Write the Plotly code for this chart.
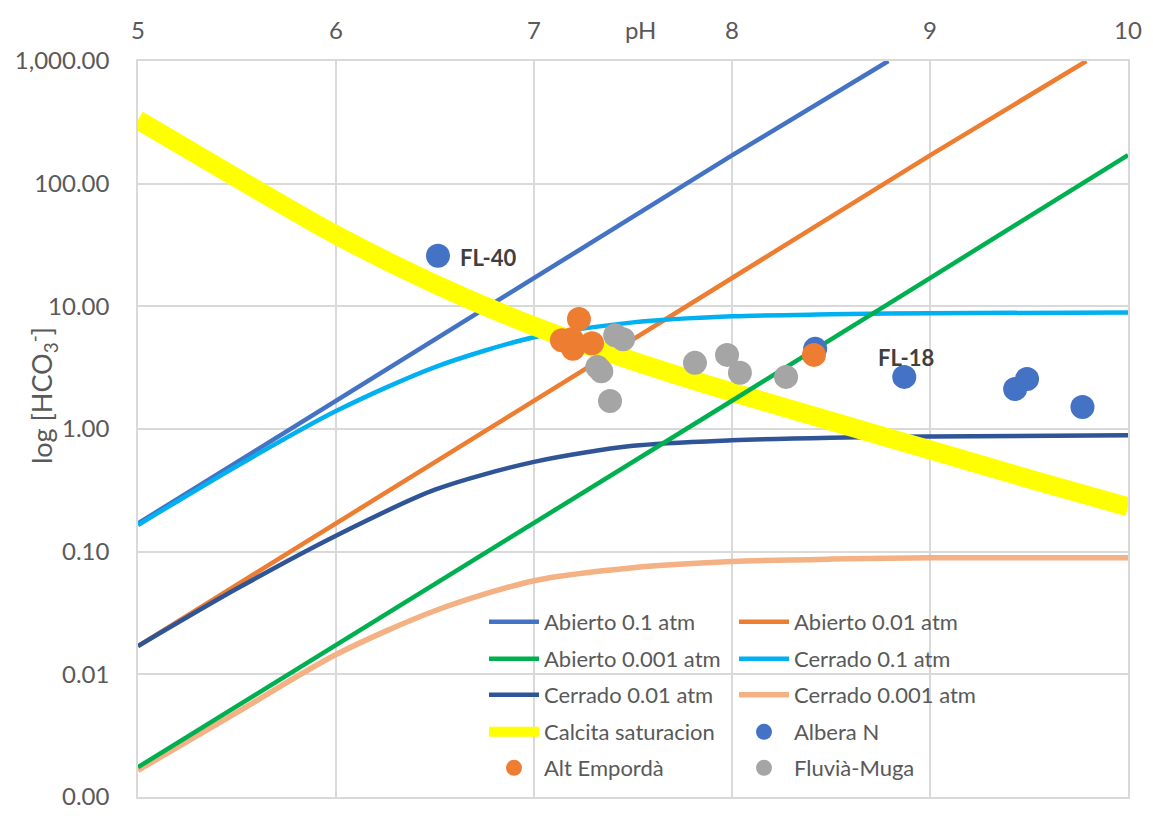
import math
import plotly.graph_objects as go

# ---------------- data ----------------
ab01_ph = [5, 6, 7, 8, 8.79]
ab01_v = [0.17, 1.7, 17, 170, 1000]

ab001_ph = [5, 6, 7, 8, 9, 9.79]
ab001_v = [0.017, 0.17, 1.7, 17, 170, 1000]

ab0001_ph = [5, 6, 7, 8, 9, 10]
ab0001_v = [0.00175, 0.0172, 0.17, 1.7, 17, 171]

ce_ph = [5, 5.5, 6, 6.5, 7, 7.5, 8, 8.5, 9, 10]
ce01_v = [0.165, 0.5, 1.4, 3.2, 5.6, 7.4, 8.3, 8.6, 8.8, 8.9]
ce001_v = [0.017, 0.05, 0.135, 0.32, 0.54, 0.73, 0.81, 0.85, 0.87, 0.89]
ce0001_v = [0.00165, 0.0049, 0.0145, 0.033, 0.058, 0.074, 0.083, 0.087, 0.089, 0.089]

cal_ph = [5, 5.5, 6, 6.5, 7, 7.5, 8, 8.5, 9, 9.5, 10]
cal_v = [330, 111, 38.2, 15.2, 6.9, 3.59, 2.0, 1.16, 0.675, 0.392, 0.232]

albera_ph = [6.515, 8.42, 8.87, 9.43, 9.49, 9.77]
albera_v = [25.8, 4.5, 2.66, 2.12, 2.56, 1.51]

alt_ph = [7.227, 7.141, 7.197, 7.293, 7.19, 8.414]
alt_v = [7.9, 5.3, 4.5, 5.0, 5.4, 4.02]

fluv_ph = [7.41, 7.45, 7.32, 7.34, 7.384, 7.813, 7.975, 8.04, 8.273]
fluv_v = [5.8, 5.4, 3.2, 2.95, 1.69, 3.46, 4.02, 2.87, 2.66]

labels = [("FL-40", 6.616, 24.8), ("FL-18", 8.727, 3.8)]

x_ticks = [5, 6, 7, 8, 9, 10]
y_ticks = [0.001, 0.01, 0.1, 1, 10, 100, 1000]
y_ticktext = ["0.00", "0.01", "0.10", "1.00", "10.00", "100.00", "1,000.00"]

# ---------------- styling ----------------
FONT = "Lato"
TXT = "#595959"
GRID = "#D9D9D9"

fig = go.Figure()

def line(name, x, y, color, width, legend, rank, spline=False):
    fig.add_trace(go.Scatter(
        x=x, y=y, mode="lines", name=name,
        line=dict(color=color, width=width, shape="spline" if spline else "linear", smoothing=0.8),
        legend=legend, legendrank=rank, hoverinfo="skip"))

def pts(name, x, y, color, legend, rank):
    fig.add_trace(go.Scatter(
        x=x, y=y, mode="markers", name=name,
        marker=dict(color=color, size=24, line=dict(width=0)),
        legend=legend, legendrank=rank, hoverinfo="skip"))

line("Abierto 0.1 atm", ab01_ph, ab01_v, "#4472C4", 4.5, "legend", 1)
line("Abierto 0.01 atm", ab001_ph, ab001_v, "#ED7D31", 4.5, "legend", 2)
line("Cerrado 0.1 atm", ce_ph, ce01_v, "#00B0F0", 4.5, "legend2", 4, True)
line("Cerrado 0.01 atm", ce_ph, ce001_v, "#2F5597", 4.5, "legend3", 5, True)
line("Cerrado 0.001 atm", ce_ph, ce0001_v, "#F4B183", 5.5, "legend3", 6, True)
line("Calcita saturacion", cal_ph, cal_v, "#FFFF00", 19, "legend4", 7, True)
line("Abierto 0.001 atm", ab0001_ph, ab0001_v, "#00B050", 4.5, "legend2", 3)
pts("Albera N", albera_ph, albera_v, "#4472C4", "legend4", 8)
pts("Alt Empordà", alt_ph, alt_v, "#ED7D31", "legend5", 9)
pts("Fluvià-Muga", fluv_ph, fluv_v, "#A5A5A5", "legend5", 10)

# geometry in pixels
W, H = 1153, 821
L, R, T, B = 138, 25, 61, 24
pw, ph_ = W - L - R, H - T - B

def px(xp):
    return (xp - L) / pw

def py(yp):
    return (H - B - yp) / ph_

for txt, xv, yv in labels:
    fig.add_annotation(x=xv, y=math.log10(yv), xref="x", yref="y", text="<b>%s</b>" % txt,
                       showarrow=False, xanchor="left", yanchor="middle",
                       font=dict(family=FONT, size=22, color="#404040"))

fig.add_annotation(x=px(640), y=py(30), xref="paper", yref="paper", text="pH",
                   showarrow=False, xanchor="center", yanchor="middle",
                   font=dict(family=FONT, size=24, color=TXT))
fig.add_annotation(x=px(42), y=py(396), xref="paper", yref="paper",
                   text="log [HCO<sub>3</sub><sup>-</sup>]", textangle=-90,
                   showarrow=False, xanchor="center", yanchor="middle",
                   font=dict(family=FONT, size=27, color=TXT))

leg_common = dict(orientation="h", entrywidth=185, entrywidthmode="pixels",
                  bgcolor="rgba(0,0,0,0)", font=dict(family=FONT, size=22, color=TXT),
                  itemwidth=50, xanchor="left", yanchor="middle", traceorder="normal",
                  itemclick=False, itemdoubleclick=False)
rows_y = [622, 659, 695, 732, 768]
leg_x = px(484)

fig.update_layout(
    width=W, height=H,
    margin=dict(l=L, r=R, t=T, b=B),
    paper_bgcolor="white", plot_bgcolor="white",
    font=dict(family=FONT, color=TXT),
    xaxis=dict(range=[5, 10], side="top", tickvals=x_ticks, showgrid=True, gridcolor=GRID,
               gridwidth=1.5, zeroline=False, showline=True, linecolor=GRID, linewidth=1.5,
               mirror=True, ticks="", ticklabelstandoff=11,
               tickfont=dict(family=FONT, size=24, color=TXT)),
    yaxis=dict(type="log", range=[-3, 3], tickvals=y_ticks, ticktext=y_ticktext,
               showgrid=True, gridcolor=GRID, gridwidth=1.5, zeroline=False, showline=True,
               linecolor=GRID, linewidth=1.5, mirror=True, ticks="", ticklabelstandoff=22,
               tickfont=dict(family=FONT, size=24, color=TXT)),
    legend=dict(x=leg_x, y=py(rows_y[0]), **leg_common),
    legend2=dict(x=leg_x, y=py(rows_y[1]), **leg_common),
    legend3=dict(x=leg_x, y=py(rows_y[2]), **leg_common),
    legend4=dict(x=leg_x, y=py(rows_y[3]), **leg_common),
    legend5=dict(x=leg_x, y=py(rows_y[4]), **leg_common),
    showlegend=True,
)

fig.write_html("out.html")
